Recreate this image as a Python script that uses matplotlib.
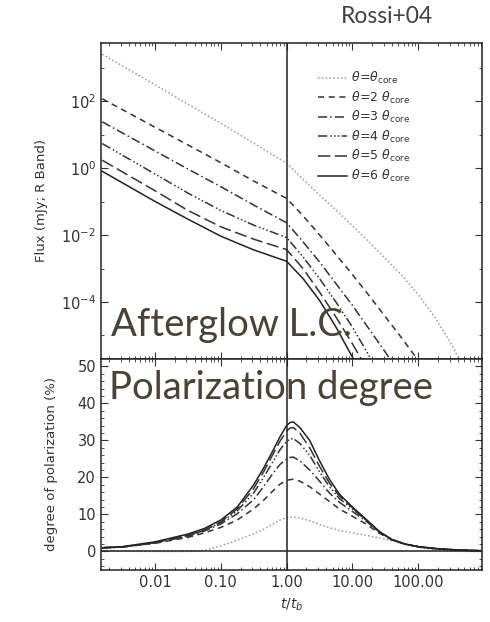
import numpy as np
import matplotlib
matplotlib.use("Agg")
import matplotlib.pyplot as plt
from matplotlib.ticker import FixedLocator, NullFormatter, FixedFormatter

# log10(t/tb) and log10(flux)
logt_flux = [-2.8, -2.0, -1.5, -1.0, -0.5, 0.0, 0.25, 0.5, 0.75, 1.0, 1.25, 1.5, 1.75, 2.0, 2.25, 2.5, 2.75]
flux_1 = [3.41, 2.50, 1.92, 1.35, 0.75, 0.15, -0.33, -0.80, -1.25, -1.72, -2.20, -2.70, -3.20, -3.78, -4.45, -5.25, -6.20]
flux_2 = [2.08, 1.23, 0.70, 0.17, -0.38, -0.90, -1.42, -1.99, -2.58, -3.18, -3.80, -4.44, -5.08, -5.75, -6.50, -7.3, -8.1]
flux_3 = [1.39, 0.52, -0.02, -0.55, -1.10, -1.63, -2.20, -2.80, -3.45, -4.10, -4.80, -5.50, -6.25, -7.0, -7.8, -8.6, -9.4]
flux_4 = [0.74, -0.17, -0.74, -1.26, -1.70, -2.07, -2.65, -3.30, -4.00, -4.75, -5.60, -6.50, -7.4, -8.3, -9.2, -10.1, -11.0]
flux_5 = [0.24, -0.67, -1.26, -1.75, -2.12, -2.43, -3.00, -3.70, -4.45, -5.25, -6.10, -7.0, -7.9, -8.8, -9.7, -10.6, -11.5]
flux_6 = [-0.09, -0.99, -1.52, -2.03, -2.44, -2.78, -3.30, -3.95, -4.75, -5.65, -6.60, -7.6, -8.6, -9.6, -10.6, -11.6, -12.6]

# polarization degree (%)
logt_pol = [-2.8, -2.5, -2.0, -1.5, -1.25, -1.0, -0.75, -0.5, -0.35, -0.2, -0.1, 0.0, 0.05, 0.1, 0.2,
            0.35, 0.5, 0.65, 0.8, 1.0, 1.2, 1.4, 1.6, 1.8, 2.0, 2.25, 2.5, 2.75, 2.97]
pol_1 = [0.2, 0.1, 0.0, 0.0, 0.3, 1.5, 3.0, 4.8, 6.0, 7.5, 8.5, 9.1, 9.3, 9.3, 9.1,
         8.3, 7.3, 6.4, 5.7, 5.0, 4.4, 3.7, 2.9, 1.9, 1.1, 0.4, 0.1, 0.0, 0.0]
pol_2 = [1.0, 1.2, 2.2, 3.8, 5.0, 6.5, 8.5, 11.5, 13.8, 16.5, 18.2, 19.2, 19.4, 19.5, 19.0,
         17.5, 15.5, 13.5, 11.5, 9.5, 7.5, 5.0, 3.1, 2.0, 1.2, 0.8, 0.5, 0.3, 0.2]
pol_3 = [1.0, 1.2, 2.3, 4.1, 5.5, 7.4, 10.2, 14.0, 17.5, 21.3, 23.5, 25.0, 25.4, 25.5, 24.5,
         22.0, 19.0, 15.8, 13.3, 10.8, 8.3, 5.3, 3.2, 2.0, 1.3, 0.8, 0.5, 0.3, 0.2]
pol_4 = [1.0, 1.2, 2.4, 4.3, 5.7, 7.8, 11.0, 15.8, 20.0, 24.5, 27.5, 29.7, 30.3, 30.5, 29.2,
         26.0, 21.5, 17.5, 14.3, 11.5, 8.6, 5.4, 3.2, 2.0, 1.3, 0.8, 0.5, 0.3, 0.2]
pol_5 = [1.0, 1.2, 2.4, 4.4, 5.8, 8.0, 11.5, 17.0, 21.5, 26.5, 29.8, 32.5, 33.3, 33.5, 32.0,
         28.0, 23.0, 18.5, 15.0, 11.8, 8.7, 5.5, 3.2, 2.0, 1.3, 0.8, 0.5, 0.3, 0.2]
pol_6 = [1.0, 1.3, 2.6, 4.7, 6.2, 8.5, 12.0, 18.0, 22.5, 27.5, 31.0, 34.0, 34.8, 35.0, 33.5,
         30.0, 24.5, 19.5, 15.5, 12.0, 8.8, 5.5, 3.2, 2.0, 1.3, 0.8, 0.5, 0.3, 0.2]

labels = [r'$\theta\!=\!\theta_{\rm core}$', r'$\theta\!=\!2\ \theta_{\rm core}$',
          r'$\theta\!=\!3\ \theta_{\rm core}$', r'$\theta\!=\!4\ \theta_{\rm core}$',
          r'$\theta\!=\!5\ \theta_{\rm core}$', r'$\theta\!=\!6\ \theta_{\rm core}$']

styles = [(0, (1, 1.5)), (0, (4, 3)), (0, (6, 2, 1, 2)),
          (0, (6, 2, 1, 1.5, 1, 1.5, 1, 1.5)), (0, (8, 3)), '-']
colors = ['#9a9a9a', '#333333', '#333333', '#333333', '#333333', '#222222']

ink = '#333333'
plt.rcParams['font.family'] = 'DejaVu Sans'
plt.rcParams['mathtext.fontset'] = 'dejavusans'

fig = plt.figure(figsize=(4.9, 6.22), dpi=100)
ax1 = fig.add_axes([0.206, 0.423, 0.778, 0.508])
ax2 = fig.add_axes([0.206, 0.0836, 0.778, 0.3394])

t_f = 10 ** np.array(logt_flux)
for f, ls, c, lab in zip([flux_1, flux_2, flux_3, flux_4, flux_5, flux_6], styles, colors, labels):
    ax1.plot(t_f, 10 ** np.array(f), ls=ls, color=c, lw=1.1, label=lab)

t_p = 10 ** np.array(logt_pol)
for p, ls, c in zip([pol_1, pol_2, pol_3, pol_4, pol_5, pol_6], styles, colors):
    ax2.plot(t_p, p, ls=ls, color=c, lw=1.1)

xlo, xhi = 10 ** -2.82, 10 ** 2.97
for ax in (ax1, ax2):
    ax.set_xscale('log')
    ax.set_xlim(xlo, xhi)
    ax.axvline(1.0, color='#222222', lw=1.1)
    ax.tick_params(which='both', direction='in', top=True, right=True,
                   colors=ink, labelcolor=ink, labelsize=10.5)
    ax.tick_params(which='major', length=5)
    ax.tick_params(which='minor', length=2.5)
    for s in ax.spines.values():
        s.set_color('#222222')
        s.set_linewidth(1.1)

ax1.set_yscale('log')
ax1.set_ylim(10 ** -5.7, 10 ** 3.75)
ax1.yaxis.set_major_locator(FixedLocator([1e-4, 1e-2, 1e0, 1e2]))
ax1.yaxis.set_major_formatter(FixedFormatter([r'$10^{-4}$', r'$10^{-2}$', r'$10^{0}$', r'$10^{2}$']))
ax1.yaxis.set_minor_locator(FixedLocator([1e-5, 1e-3, 1e-1, 1e1, 1e3]))
ax1.yaxis.set_minor_formatter(NullFormatter())
ax1.xaxis.set_major_formatter(NullFormatter())
ax1.xaxis.set_minor_formatter(NullFormatter())
ax1.set_ylabel('Flux (mJy; R Band)', color=ink, fontsize=9.5, labelpad=9)

ax1.legend(loc='upper left', bbox_to_anchor=(0.54, 0.95), frameon=False,
           fontsize=9, handlelength=2.3, handletextpad=0.3, labelspacing=0.28,
           labelcolor=ink)

ax2.set_ylim(-5, 52)
ax2.set_yticks([0, 10, 20, 30, 40, 50])
ax2.yaxis.set_minor_locator(FixedLocator(np.arange(-4, 52, 2)))
ax2.axhline(0, color='#222222', lw=1.1)
ax2.set_xticks([0.01, 0.1, 1, 10, 100])
ax2.set_xticklabels(['0.01', '0.10', '1.00', '10.00', '100.00'])
ax2.xaxis.set_minor_formatter(NullFormatter())
ax2.set_xlabel(r'$t/t_b$', color=ink, fontsize=10, labelpad=5)
ax2.set_ylabel('degree of polarization (%)', color=ink, fontsize=9.5, labelpad=14)

# slide annotations
txt = '#4a4232'
fig.text(0.79, 0.974, 'Rossi+04', fontsize=16.5, color='#404040', family='Lato',
         ha='center', va='center')
fig.text(0.226, 0.478, 'Afterglow L.C.', fontsize=27.5, color=txt, family='Lato',
         ha='left', va='center')
fig.text(0.222, 0.377, 'Polarization degree', fontsize=27.5, color=txt, family='Lato',
         ha='left', va='center')

fig.savefig('out.png', dpi=100)
